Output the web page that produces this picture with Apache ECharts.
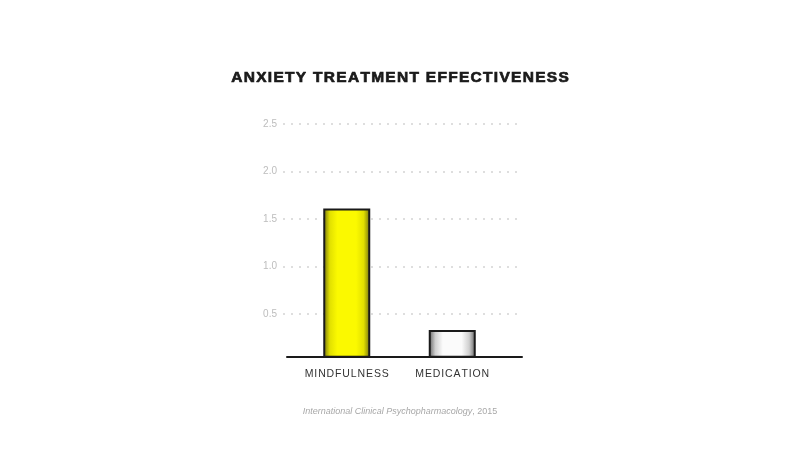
<!DOCTYPE html>
<html><head><meta charset="utf-8">
<script src="https://cdn.jsdelivr.net/npm/echarts@6/dist/echarts.min.js"></script>
<style>html,body{margin:0;padding:0;background:#fff}#c{width:800px;height:450px}</style>
</head><body><div id="c"></div>
<script>
const categories = ['MINDFULNESS', 'MEDICATION'];
const effectValues = [1.61, 0.33];
const yTicks = [0.5, 1.0, 1.5, 2.0, 2.5];
const titleText = 'ANXIETY TREATMENT EFFECTIVENESS';
const sourceName = 'International Clinical Psychopharmacology';
const sourceYear = '2015';

const chart = echarts.init(document.getElementById('c'), null, {renderer: 'canvas'});

function edgeGrad(edge, mid, center) {
  return {type: 'linear', x: 0, y: 0, x2: 1, y2: 0, colorStops: [
    {offset: 0, color: edge}, {offset: 0.14, color: mid}, {offset: 0.3, color: center},
    {offset: 0.7, color: center}, {offset: 0.86, color: mid}, {offset: 1, color: edge}]};
}
const styles = [
  {color: edgeGrad('#6e6e10', '#e2e000', '#fbf900'), borderColor: '#1a1a1a', borderWidth: 2},
  {color: edgeGrad('#5e5e5e', '#cfcfcf', '#fbfbfb'), borderColor: '#1a1a1a', borderWidth: 2}
];

chart.setOption({
  backgroundColor: '#ffffff',
  animation: false,
  title: {
    text: titleText.split('').join('\u200A'),
    left: 'center', top: 65,
    textStyle: {fontFamily: 'Liberation Sans', fontWeight: 'bold', fontSize: 15.5, color: '#1a1a1a',
      textBorderColor: '#1a1a1a', textBorderWidth: 0.7}
  },
  graphic: [{
    type: 'text', left: 'center', top: 407,
    style: {
      text: '{i|' + sourceName + '}{n|, ' + sourceYear + '}',
      rich: {
        i: {fontFamily: 'Liberation Sans', fontStyle: 'italic', fontSize: 9, fill: '#a8a8a8'},
        n: {fontFamily: 'Liberation Sans', fontSize: 9, fill: '#a8a8a8'}
      }
    }
  }],
  grid: [
    {left: 283, right: 280, top: 124, bottom: 88.4},
    {left: 287, right: 278, top: 124, bottom: 93.3},
    {left: 294, right: 295, top: 124, bottom: 93.3}
  ],
  xAxis: [
    {gridIndex: 0, type: 'value', show: false},
    {gridIndex: 1, type: 'value', min: 0, max: 1, axisLine: {show: true, onZero: false, lineStyle: {color: '#1a1a1a', width: 2}},
     axisTick: {show: false}, axisLabel: {show: false}, splitLine: {show: false}},
    {gridIndex: 2, type: 'category', data: categories, axisLine: {show: false}, axisTick: {show: false},
     axisLabel: {interval: 0, color: '#333', fontFamily: 'Liberation Sans', fontSize: 10.5, margin: 12,
       formatter: v => v.split('').join('\u200A')}}
  ],
  yAxis: [
    {gridIndex: 0, type: 'value', min: 0, max: 2.5, interval: 0.5,
     axisLine: {show: false}, axisTick: {show: false},
     axisLabel: {color: '#bdbdbd', fontFamily: 'Liberation Sans', fontSize: 10, margin: 6,
       formatter: v => (yTicks.indexOf(v) >= 0 ? v.toFixed(1) : '')},
     splitLine: {show: true, lineStyle: {color: ['rgba(0,0,0,0)', '#d4d4d4', '#d4d4d4', '#d4d4d4', '#d4d4d4', '#d4d4d4'], type: [2, 6], width: 1.5}}},
    {gridIndex: 1, type: 'value', min: 0.05, max: 2.5, show: false},
    {gridIndex: 2, type: 'value', min: 0.05, max: 2.5, show: false}
  ],
  series: [{
    type: 'bar', xAxisIndex: 2, yAxisIndex: 2, barWidth: 47,
    data: effectValues.map((v, i) => ({value: v, itemStyle: styles[i]})),
    z: 5
  }]
});
</script></body></html>
